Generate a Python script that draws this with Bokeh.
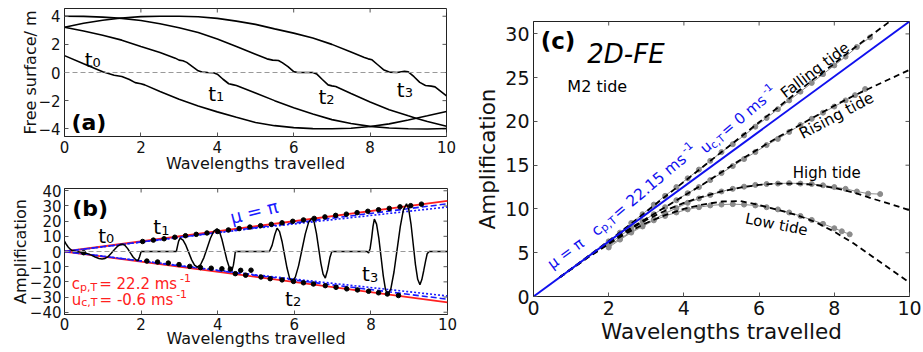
import math
from bokeh.plotting import figure
from bokeh.models import Label, Span, FixedTicker, Range1d
from bokeh.layouts import row, column
from bokeh.embed import file_html
from bokeh.resources import INLINE

FONT = "DejaVu Sans"

# ---------------- Panel (a): free surface ----------------
a_t0_x = [0, 0.5, 1.0, 1.3, 1.5, 1.7, 1.85, 2.0, 2.1, 2.5, 3.0, 3.5, 4.0, 4.5, 5.0, 5.5, 6.0, 6.5, 7.0, 7.5, 8.0, 8.5, 9.0, 9.5, 10]
a_t0_y = [1.20, 0.62, 0.05, -0.20, -0.28, -0.50, -0.72, -0.80, -0.88, -1.35, -1.90, -2.38, -2.80, -3.18, -3.55, -3.78, -3.92, -3.99, -4.00, -3.96, -3.84, -3.65, -3.38, -3.08, -2.77]
a_t1_x = [0, 0.5, 1.0, 1.5, 2.0, 2.5, 2.9, 3.0, 3.1, 3.2, 3.35, 3.5, 3.6, 3.75, 3.9, 4.0, 4.15, 4.3, 4.4, 4.5, 5.0, 5.5, 6.0, 6.5, 7.0, 7.5, 8.0, 8.5, 9.0, 9.5, 10]
a_t1_y = [3.22, 2.95, 2.65, 2.30, 1.85, 1.42, 1.02, 0.88, 0.84, 0.72, 0.42, 0.12, 0.03, 0.0, -0.02, -0.12, -0.48, -0.80, -0.86, -0.92, -1.45, -2.0, -2.5, -2.95, -3.35, -3.62, -3.83, -3.95, -4.0, -4.02, -3.98]
a_t2_x = [0, 0.5, 1.0, 1.5, 2.0, 2.5, 3.0, 3.5, 4.0, 4.5, 5.0, 5.3, 5.45, 5.6, 5.7, 5.85, 6.0, 6.1, 6.5, 6.6, 6.75, 6.9, 7.0, 7.1, 7.5, 8.0, 8.5, 9.0, 9.2, 9.5, 10]
a_t2_y = [4.0, 3.99, 3.94, 3.85, 3.70, 3.47, 3.18, 2.85, 2.38, 1.85, 1.30, 0.97, 0.88, 0.85, 0.70, 0.42, 0.06, 0.0, 0.0, -0.10, -0.50, -0.88, -0.95, -1.0, -1.5, -2.1, -2.65, -3.08, -3.25, -3.48, -3.82]
a_t3_x = [0, 0.5, 1.0, 1.5, 2.0, 2.5, 3.0, 3.5, 4.0, 4.5, 5.0, 5.5, 6.0, 6.5, 7.0, 7.5, 7.85, 7.95, 8.05, 8.2, 8.35, 8.5, 8.7, 8.9, 9.0, 9.15, 9.3, 9.45, 9.6, 9.7, 10]
a_t3_y = [3.22, 3.50, 3.72, 3.88, 3.97, 4.0, 4.0, 3.96, 3.85, 3.65, 3.42, 3.10, 2.80, 2.45, 2.00, 1.45, 1.07, 0.97, 0.90, 0.55, 0.20, 0.03, 0.0, 0.08, 0.05, -0.30, -0.70, -0.92, -0.97, -1.02, -1.66]
a_xticks = [0, 2, 4, 6, 8, 10]
a_yticks = [-4, -2, 0, 2, 4]

# ---------------- Panel (b): amplification ----------------
b_env_x = [0, 10]
b_red_up = [0.0, 33.3]
b_red_lo = [0.0, -33.5]
b_mu_up = [0.0, 31.4]
b_mu_lo = [0.0, -31.4]
b_dot_x = [0, 5, 10]
b_dot_up = [0.0, 15.4, 29.3]
b_dot_lo = [0.0, -15.4, -29.3]
b_up_x = [2.04, 2.32, 2.60, 2.88, 3.16, 3.44, 3.72, 4.00, 4.28, 4.56, 4.84, 5.12, 5.40, 5.68, 5.96, 6.24, 6.52, 6.80, 7.08, 7.36, 7.64, 7.92, 8.20, 8.48, 8.76, 9.04, 9.32]
b_up_y = [6.6, 7.5, 8.4, 9.4, 10.4, 11.3, 12.2, 13.2, 14.2, 15.1, 16.1, 17.0, 17.9, 18.9, 19.9, 20.8, 21.8, 22.8, 23.8, 24.6, 25.6, 26.5, 27.5, 28.4, 29.4, 30.2, 31.2]
b_lo_x = [0.50, 2.15, 2.43, 2.71, 2.99, 3.27, 3.55, 3.83, 4.11, 4.33, 4.46, 4.60, 4.73, 4.87, 5.13, 5.37, 5.68, 5.98, 6.24, 6.50, 6.81, 7.09, 7.37, 7.65, 7.94, 8.20, 8.43, 8.72]
b_lo_y = [-0.8, -6.3, -6.9, -7.6, -8.6, -9.8, -10.6, -11.0, -11.4, -11.6, -14.6, -12.4, -15.6, -12.3, -16.8, -17.9, -18.7, -19.7, -20.6, -21.4, -22.5, -23.6, -24.6, -25.3, -26.2, -27.2, -28.0, -29.0]
b_wave_x = [0.0, 0.05, 0.1, 0.15, 0.2, 0.3, 0.4, 0.5, 0.6, 0.7, 0.8, 0.9, 0.98, 1.06, 1.14, 1.22, 1.3, 1.38, 1.46, 1.52, 1.58, 1.65, 1.72, 1.79, 1.86, 1.92, 1.96, 2.0,
            2.92, 2.95, 2.98, 3.02, 3.095, 3.17, 3.245, 3.32, 3.395, 3.47, 3.555, 3.64, 3.725, 3.81, 3.895, 3.98, 4.045, 4.11, 4.175, 4.24, 4.305, 4.37, 4.41, 4.44, 4.46,
            5.35, 5.42, 5.49, 5.55, 5.615, 5.68, 5.745, 5.81, 5.875, 5.94, 6.027, 6.113, 6.2, 6.287, 6.373, 6.46, 6.518, 6.577, 6.635, 6.693, 6.752, 6.81, 6.87, 6.93, 6.98,
            7.9, 7.94, 7.98, 8.02, 8.055, 8.09, 8.148, 8.207, 8.265, 8.323, 8.382, 8.44, 8.522, 8.603, 8.685, 8.767, 8.848, 8.93, 8.988, 9.047, 9.105, 9.163, 9.222, 9.28, 9.33, 9.38, 9.43, 9.47, 9.52, 10.0]
b_wave_y = [6.8, 4.6, 2.8, 1.5, 0.6, 0.0, -0.4, -0.8, -1.4, -2.4, -3.6, -4.6, -5.0, -4.6, -3.3, -1.2, 1.2, 3.3, 4.6, 4.8, 4.0, 1.9, -0.9, -3.6, -5.5, -6.0, -3.5, 0.0,
            0.0, 3.5, 6.8, 8.8, 7.5, 4.0, -0.75, -5.5, -9.0, -10.3, -8.6, -4.0, 2.35, 8.7, 13.3, 15.0, 13.2, 8.1, 1.25, -5.6, -10.7, -12.5, -9.0, -4.0, 0.0,
            0.0, 4.0, 11.0, 15.4, 13.05, 6.6, -2.15, -10.9, -17.35, -19.7, -16.9, -9.3, 1.15, 11.6, 19.2, 22.0, 19.35, 12.1, 2.25, -7.6, -14.85, -17.5, -12.0, -4.0, 0.0,
            0.0, -1.0, 2.0, 9.0, 16.5, 21.3, 18.0, 8.85, -3.6, -16.05, -25.2, -28.5, -24.5, -13.5, 1.45, 16.4, 27.4, 31.4, 27.8, 18.1, 4.75, -8.6, -18.3, -21.9, -18.5, -12.5, -6.0, -1.5, 0.0, 0.0]
b_xticks = [0, 2, 4, 6, 8, 10]
b_yticks = [-40, -30, -20, -10, 0, 10, 20, 30, 40]

# ---------------- Panel (c): 2D-FE ----------------
c_mu_x = [0, 10]
c_mu_y = [0, 31.416]
c_dash_x = [0.7, 1.0, 1.5, 2.0, 2.5, 3.0, 3.5, 4.0, 4.5, 5.0, 5.5, 6.0, 6.5, 7.0, 7.5, 8.0, 8.5, 9.0, 9.5, 10.0]
c_fall_dash = [2.2, 3.15, 4.75, 6.35, 8.0, 9.7, 11.4, 13.1, 14.8, 16.5, 18.2, 19.9, 21.6, 23.3, 25.0, 26.6, 28.3, 29.9, 31.5, 33.1]
c_rise_dash = [2.2, 3.15, 4.7, 6.2, 7.6, 8.9, 10.2, 11.5, 12.8, 14.2, 15.6, 16.9, 18.2, 19.4, 20.6, 21.8, 22.9, 23.9, 24.9, 25.9]
c_high_dash = [2.2, 3.1, 4.65, 6.1, 7.5, 8.75, 9.8, 10.7, 11.4, 12.0, 12.45, 12.75, 12.9, 12.9, 12.75, 12.4, 11.9, 11.2, 10.55, 9.85]
c_low_dash = [2.2, 3.1, 4.6, 6.0, 7.3, 8.4, 9.3, 10.0, 10.5, 10.85, 10.9, 10.45, 9.9, 9.3, 8.5, 7.4, 6.1, 4.6, 3.1, 1.6]
c_fall_gx = [2.0, 2.3, 2.6, 2.9, 3.2, 3.5, 3.8, 4.1, 4.4, 4.7, 5.0, 5.3, 5.6, 5.9, 6.2, 6.5, 6.8, 7.1, 7.4, 7.7, 8.0, 8.3, 8.6, 8.95]
c_fall_gy = [6.3, 7.3, 8.4, 9.4, 10.5, 11.5, 12.5, 13.5, 14.5, 15.5, 16.5, 17.4, 18.4, 19.4, 20.4, 21.4, 22.4, 23.4, 24.4, 25.4, 26.4, 27.4, 28.5, 29.6]
c_rise_gx = [2.0, 2.3, 2.6, 2.9, 3.2, 3.5, 3.8, 4.1, 4.4, 4.7, 5.0, 5.3, 5.6, 5.9, 6.2, 6.5, 6.8, 7.1, 7.4, 7.7, 8.0, 8.3, 8.55, 8.82]
c_rise_gy = [6.0, 6.9, 7.8, 8.6, 9.4, 10.2, 11.0, 11.8, 12.5, 13.3, 14.1, 14.9, 15.7, 16.5, 17.3, 18.0, 18.8, 19.6, 20.3, 21.0, 21.7, 22.4, 23.0, 23.7]
c_high_gx = [2.0, 2.3, 2.6, 2.9, 3.2, 3.5, 3.8, 4.1, 4.4, 4.7, 5.0, 5.3, 5.6, 5.9, 6.2, 6.5, 6.8, 7.1, 7.4, 7.7, 8.0, 8.3, 8.6, 8.9, 9.22]
c_high_gy = [5.8, 6.6, 7.4, 8.1, 8.8, 9.5, 10.1, 10.7, 11.2, 11.6, 12.0, 12.3, 12.55, 12.75, 12.85, 12.9, 12.95, 12.9, 12.85, 12.7, 12.5, 12.3, 12.0, 11.75, 11.7]
c_low_gx = [2.0, 2.3, 2.6, 2.9, 3.2, 3.5, 3.8, 4.1, 4.4, 4.7, 5.0, 5.3, 5.6, 5.9, 6.2, 6.5, 6.8, 7.1, 7.4, 7.7, 8.0, 8.2, 8.41]
c_low_gy = [5.6, 6.5, 7.3, 8.0, 8.7, 9.2, 9.6, 9.95, 10.2, 10.4, 10.5, 10.55, 10.5, 10.4, 10.2, 9.95, 9.6, 9.2, 8.75, 8.3, 7.8, 7.45, 7.1]
c_xticks = [0, 2, 4, 6, 8, 10]
c_yticks = [0, 5, 10, 15, 20, 25, 30]

# ---------------- helpers ----------------
EM = {' ': 0.318, '=': 0.838, '.': 0.318, ',': 0.318, '-': 0.361, 'c': 0.550, 'p': 0.635,
      'T': 0.611, 'u': 0.634, 'm': 0.974, 's': 0.521, 't': 0.392, 'μ': 0.636, 'π': 0.602}
for d in "0123456789":
    EM[d] = 0.636

LIFT = 4.0  # small upward screen offset applied to all free texts


def text_width(s, size):
    return sum(EM.get(ch, 0.6) for ch in s) * size


def rich(p, x, y, pieces, color="black", angle=0.0, style="normal"):
    """pieces: (text, font px, baseline shift px, extra advance px after)"""
    th = math.radians(angle)
    adv = 0.0
    for txt, size, shift, extra in pieces:
        xo = adv * math.cos(th) - shift * math.sin(th)
        yo = adv * math.sin(th) + shift * math.cos(th) + LIFT
        p.add_layout(Label(x=x, y=y, text=txt, x_offset=xo, y_offset=yo, angle=th,
                           text_font=FONT, text_font_size=f"{size}px", text_color=color,
                           text_font_style=style, text_baseline="alphabetic", text_align="left"))
        adv += text_width(txt, size) + extra


def label(p, x, y, txt, size, color="black", angle=0.0, style="normal", align="left", baseline="alphabetic"):
    p.add_layout(Label(x=x, y=y, text=txt, angle=math.radians(angle), text_font=FONT, y_offset=LIFT,
                       text_font_size=f"{size}px", text_color=color, text_font_style=style,
                       text_align=align, text_baseline=baseline))


def make_fig(fw, fh, xr, yr, bl, br, bt, bb):
    p = figure(frame_width=fw, frame_height=fh, x_range=Range1d(*xr), y_range=Range1d(*yr),
               min_border_left=bl, min_border_right=br, min_border_top=bt, min_border_bottom=bb,
               output_backend="svg", toolbar_location=None, tools="")
    p.xgrid.visible = False
    p.ygrid.visible = False
    p.outline_line_color = "#222222"
    p.outline_line_alpha = 1.0
    p.background_fill_color = "white"
    p.border_fill_color = "white"
    return p


def style_axes(p, xt, yt, tick_size, label_size, xlabel, ylabel, fw, fh, xr, yr,
               lab_stand=3, x_ax_stand=0, y_ax_stand=0):
    p.xaxis.ticker = FixedTicker(ticks=xt)
    p.yaxis.ticker = FixedTicker(ticks=yt)
    p.xaxis.axis_label = xlabel
    p.yaxis.axis_label = ylabel
    for ax in (p.xaxis[0], p.yaxis[0]):
        ax.major_tick_in = 4
        ax.major_tick_out = 0
        ax.minor_tick_line_color = None
        ax.axis_line_color = "#222222"
        ax.major_tick_line_color = "#555555"
        ax.major_label_text_font = FONT
        ax.major_label_text_font_size = f"{tick_size}px"
        ax.major_label_text_color = "#111111"
        ax.major_label_standoff = lab_stand
        ax.axis_label_text_font = FONT
        ax.axis_label_text_font_size = f"{label_size}px"
        ax.axis_label_text_font_style = "normal"
        ax.axis_label_text_color = "#111111"
    p.xaxis[0].axis_label_standoff = x_ax_stand
    p.yaxis[0].axis_label_standoff = y_ax_stand
    # mirrored inward ticks on the right and top edges (4 px long)
    dx = 4.0 * (xr[1] - xr[0]) / fw
    dy = 4.0 * (yr[1] - yr[0]) / fh
    p.segment(x0=[xr[1]] * len(yt), y0=yt, x1=[xr[1] - dx] * len(yt), y1=yt,
              line_color="#555555", line_width=1)
    p.segment(x0=xt, y0=[yr[1]] * len(xt), x1=xt, y1=[yr[1] - dy] * len(xt),
              line_color="#555555", line_width=1)


# ---------------- build (a) ----------------
A_XR, A_YR = (0, 10), (-4.55, 4.55)
pa = make_fig(382, 128, A_XR, A_YR, 61, 27, 8, 40)
style_axes(pa, a_xticks, a_yticks, 15, 16, "Wavelengths travelled", "Free surface/ m", 382, 128, A_XR, A_YR,
           4, -2, -5)
pa.add_layout(Span(location=0, dimension="width", line_color="#999999", line_dash="5 3", line_width=1))
for xs, ys in ((a_t0_x, a_t0_y), (a_t1_x, a_t1_y), (a_t2_x, a_t2_y), (a_t3_x, a_t3_y)):
    pa.line(xs, ys, line_color="black", line_width=1.6)
label(pa, 0.18, -3.85, "(a)", 22, style="bold")
rich(pa, 0.53, 0.62, [("t", 20, 0, 0), ("0", 13, -3, 0)])
rich(pa, 3.76, -1.78, [("t", 20, 0, 0), ("1", 13, -3, 0)])
rich(pa, 6.65, -2.01, [("t", 20, 0, 0), ("2", 13, -3, 0)])
rich(pa, 8.70, -1.51, [("t", 20, 0, 0), ("3", 13, -3, 0)])

# ---------------- build (b) ----------------
B_XR, B_YR = (0, 10), (-41.5, 41.5)
pb = make_fig(383, 126, B_XR, B_YR, 64, 23, 12, 38)
style_axes(pb, b_xticks, b_yticks, 15, 16, "Wavelengths travelled", "Amplification", 383, 126, B_XR, B_YR,
           3, -4, -3)
pb.add_layout(Span(location=0, dimension="width", line_color="#999999", line_dash="5 3", line_width=1))
pb.line(b_env_x, b_red_up, line_color="#ff2020", line_width=1.8)
pb.line(b_env_x, b_red_lo, line_color="#ff2020", line_width=1.8)
pb.line(b_env_x, b_mu_up, line_color="#1a1aff", line_width=1.6, line_dash="6 3")
pb.line(b_env_x, b_mu_lo, line_color="#1a1aff", line_width=1.6, line_dash="6 3")
pb.line(b_dot_x, b_dot_up, line_color="#1a1aff", line_width=1.6, line_dash="2 2")
pb.line(b_dot_x, b_dot_lo, line_color="#1a1aff", line_width=1.6, line_dash="2 2")
pb.line(b_wave_x, b_wave_y, line_color="black", line_width=1.5)
pb.scatter(b_up_x, b_up_y, size=4.5, color="black")
pb.scatter(b_lo_x, b_lo_y, size=4.5, color="black")
label(pb, 0.2, 25.5, "(b)", 22, style="bold")
rich(pb, 0.88, 7.7, [("t", 20, 0, 0), ("0", 13, -3, 0)])
rich(pb, 2.32, 13.2, [("t", 20, 0, 0), ("1", 13, -3, 0)])
rich(pb, 5.76, -33.9, [("t", 20, 0, 0), ("2", 13, -3, 0)])
rich(pb, 7.77, -17.5, [("t", 20, 0, 0), ("3", 13, -3, 0)])
rich(pb, 4.33, 19.7, [("μ = π", 18, 0, 0)], color="#1a1aff", angle=14)
rich(pb, 0.19, -24.1, [("c", 15, 0, 0), ("p,T", 11, -3, 2), (" = 22.2 ms", 15, 0, -2), ("-1", 11, 6, 0)], color="#ff2020")
rich(pb, 0.19, -34.4, [("u", 15, 0, 0), ("c,T", 11, -3, 2), (" = -0.6 ms", 15, 0, -2), ("-1", 11, 6, 0)], color="#ff2020")

# ---------------- build (c) ----------------
C_XR, C_YR = (0, 10), (0, 31.416)
pc = make_fig(376, 275, C_XR, C_YR, 63, 14, 21, 56)
style_axes(pc, c_xticks, c_yticks, 19, 21.5, "Wavelengths travelled", "Amplification", 376, 275, C_XR, C_YR,
           4, 1, 2)
GRAY = "#8c8c8c"
for gx, gy in ((c_fall_gx, c_fall_gy), (c_rise_gx, c_rise_gy), (c_high_gx, c_high_gy), (c_low_gx, c_low_gy)):
    pc.line(gx, gy, line_color=GRAY, line_width=1)
    pc.scatter(gx, gy, size=5, color=GRAY)
for dyv in (c_fall_dash, c_rise_dash, c_high_dash, c_low_dash):
    pc.line(c_dash_x, dyv, line_color="black", line_width=1.8, line_dash="6 4")
BLUE = "#1010ee"
pc.line(c_mu_x, c_mu_y, line_color=BLUE, line_width=2)
label(pc, 0.19, 28.7, "(c)", 23, style="bold")
label(pc, 1.43, 27.3, "2D-FE", 26, style="italic")
label(pc, 0.9, 23.5, "M2 tide", 16)
label(pc, 6.62, 22.6, "Falling tide", 15, angle=37)
label(pc, 7.1, 18.0, "Rising tide", 15.5, angle=28)
label(pc, 7.8, 13.7, "High tide", 15, align="center")
label(pc, 5.64, 8.46, "Low tide", 15, angle=-11)
rich(pc, 0.42, 3.1, [("μ = π", 15, 0, 0)], color=BLUE, angle=36)
rich(pc, 1.6, 6.8, [("c", 15.5, 0, 0), ("p,T", 11, -3, 2), (" = 22.15 ms", 15.5, 0, -2), ("-1", 11, 6, 0)], color=BLUE, angle=40)
rich(pc, 4.49, 16.27, [("u", 15, 0, 0), ("c,T", 10.5, -3, 2), (" = 0 ms", 15, 0, -2), ("-1", 10.5, 6, 0)], color=BLUE, angle=40)

layout = row(column(pa, pb), pc)
open("out.html", "w").write(file_html(layout, INLINE))
